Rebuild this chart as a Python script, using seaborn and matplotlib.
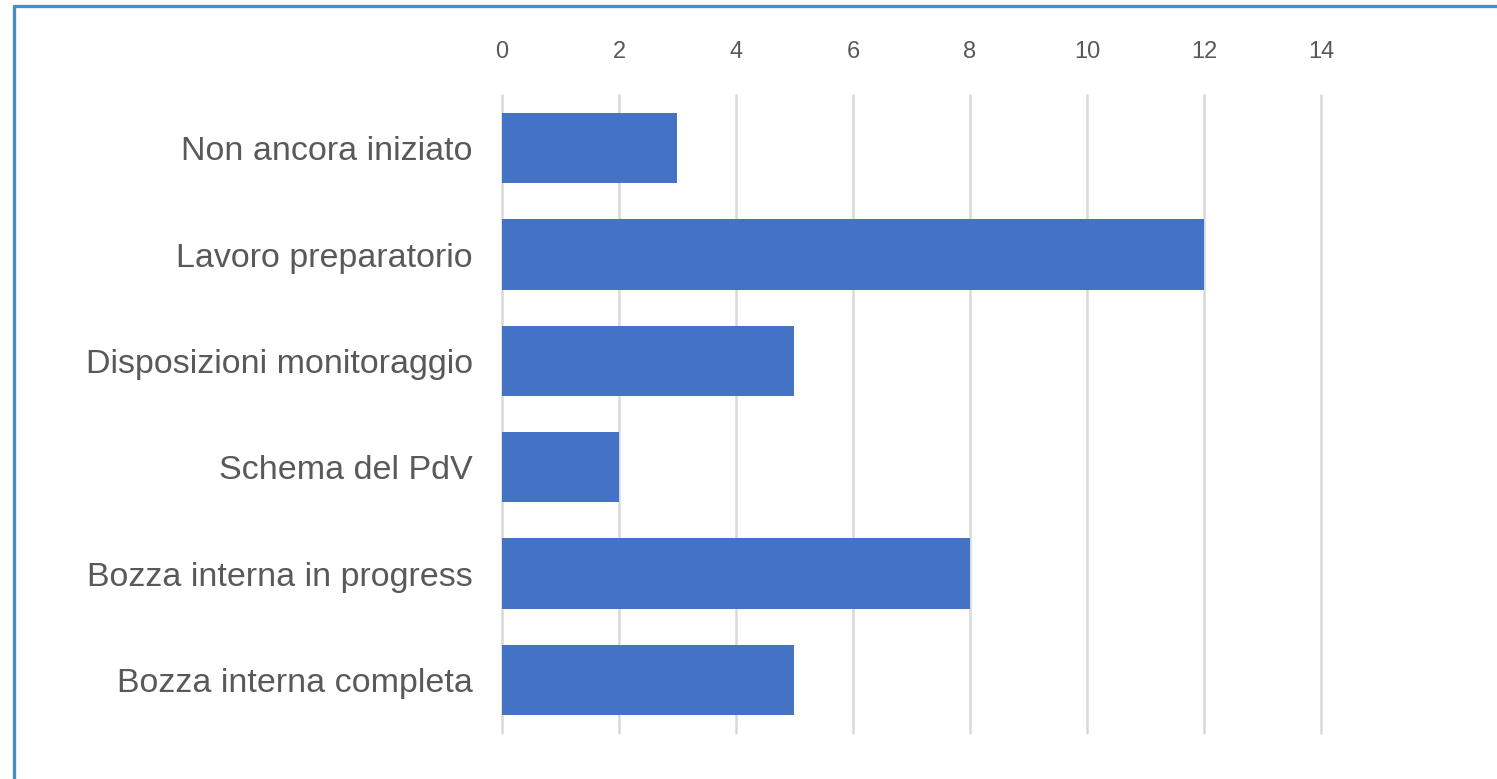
import numpy as np
import pandas as pd
import matplotlib.pyplot as plt
import seaborn as sns
from matplotlib.lines import Line2D

# fasi e numero di piani
fasi = ['Non ancora iniziato', 'Lavoro preparatorio', 'Disposizioni monitoraggio',
        'Schema del PdV', 'Bozza interna in progress', 'Bozza interna completa']
conteggi = [3, 12, 5, 2, 8, 5]
xTicks = [0, 2, 4, 6, 8, 10, 12, 14]

df = pd.DataFrame({'fase': fasi, 'n': conteggi})

sns.set_style('white')
plt.rcParams['font.family'] = ['Liberation Sans', 'DejaVu Sans']

fig = plt.figure(figsize=(14.97, 7.79), dpi=100)
ax = fig.add_axes([0.3353, 0.059, 0.5471, 0.819])

sns.barplot(data=df, x='n', y='fase', orient='h', color='#4472C4',
            width=0.66, saturation=1, linewidth=0, ax=ax, zorder=3)

ax.set_xlim(0, 14)
ax.set_ylim(5.5, -0.5)
ax.set_xticks(xTicks)
ax.xaxis.tick_top()
ax.grid(axis='x', color='#D9D9D9', linewidth=1.8, zorder=0)
for gl in ax.get_xgridlines():
    gl.set_clip_on(False)
ax.set_axisbelow(True)
ax.tick_params(axis='x', length=0, pad=23, labelsize=17, labelcolor='#595959')
ax.tick_params(axis='y', length=0, pad=21, labelsize=24.5, labelcolor='#595959')
ax.set_xlabel('')
ax.set_ylabel('')
for s in ax.spines.values():
    s.set_visible(False)

# cornice azzurra
fig.add_artist(Line2D([14/1497, 14/1497], [0, 1 - 6/779], transform=fig.transFigure,
                      color='#4A8DBE', linewidth=2.4))
fig.add_artist(Line2D([14/1497, 1], [1 - 6/779, 1 - 6/779], transform=fig.transFigure,
                      color='#4A8DBE', linewidth=2.4))

plt.savefig('out.png', dpi=100)
